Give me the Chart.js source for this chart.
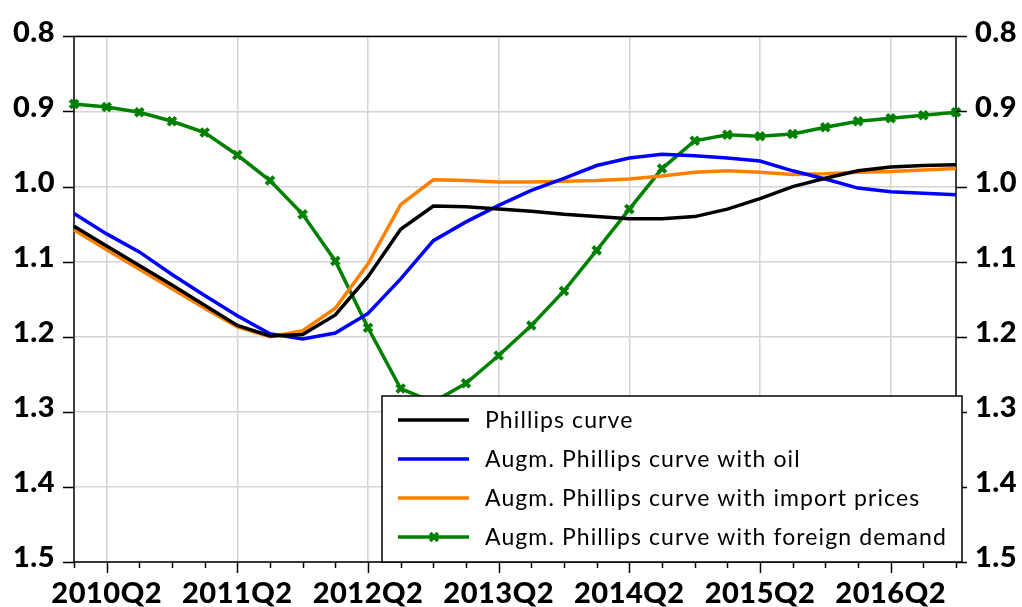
<!DOCTYPE html>
<html>
<head>
<meta charset="utf-8">
<script src="https://cdn.jsdelivr.net/npm/chart.js@4/dist/chart.umd.min.js"></script>
<style>
  html, body { margin: 0; padding: 0; background: #fff; }
  #wrap { width: 1022px; height: 607px; }
</style>
</head>
<body>
<div id="wrap"><canvas id="chart" width="1022" height="607"></canvas></div>
<script>
const quarters = [
  "2010Q1", "2010Q2", "2010Q3", "2010Q4",
  "2011Q1", "2011Q2", "2011Q3", "2011Q4",
  "2012Q1", "2012Q2", "2012Q3", "2012Q4",
  "2013Q1", "2013Q2", "2013Q3", "2013Q4",
  "2014Q1", "2014Q2", "2014Q3", "2014Q4",
  "2015Q1", "2015Q2", "2015Q3", "2015Q4",
  "2016Q1", "2016Q2", "2016Q3", "2016Q4"
];

const phillips = [
  1.053, 1.079, 1.105, 1.131, 1.158, 1.185, 1.199, 1.197, 1.171, 1.120,
  1.057, 1.026, 1.027, 1.030, 1.033, 1.037, 1.040, 1.043, 1.043, 1.040,
  1.030, 1.016, 1.000, 0.989, 0.979, 0.974, 0.972, 0.971
];
const withOil = [
  1.036, 1.063, 1.087, 1.117, 1.145, 1.172, 1.196, 1.203, 1.195, 1.169,
  1.123, 1.072, 1.047, 1.025, 1.005, 0.989, 0.972, 0.962, 0.957, 0.959,
  0.962, 0.966, 0.979, 0.990, 1.002, 1.007, 1.009, 1.011
];
const withImport = [
  1.058, 1.084, 1.110, 1.136, 1.162, 1.187, 1.200, 1.192, 1.162, 1.103,
  1.024, 0.991, 0.992, 0.994, 0.994, 0.993, 0.992, 0.990, 0.986, 0.981,
  0.979, 0.981, 0.984, 0.983, 0.981, 0.980, 0.978, 0.976
];
const withDemand = [
  0.890, 0.894, 0.901, 0.913, 0.928, 0.958, 0.992, 1.037, 1.099, 1.188,
  1.269, 1.287, 1.262, 1.225, 1.185, 1.139, 1.085, 1.030, 0.976, 0.939,
  0.931, 0.933, 0.930, 0.921, 0.913, 0.909, 0.905, 0.901
];

const yTicks = [0.8, 0.9, 1.0, 1.1, 1.2, 1.3, 1.4, 1.5];

const axisFont = { family: "Lato", weight: "900", size: 29 };

// frame around the plot, tick marks and the boxed legend
const framePlugin = {
  id: "frameAndLegend",
  beforeDraw(chart) {
    chart.ctx.letterSpacing = "0.5px";
  },
  beforeDatasetsDraw(chart) {
    const { ctx, chartArea: a } = chart;
    ctx.save();
    ctx.strokeStyle = "#000";
    ctx.lineWidth = 1.5;
    ctx.strokeRect(a.left, a.top, a.right - a.left, a.bottom - a.top);
    ctx.restore();
  },
  afterDraw(chart) {
    const { ctx, chartArea: a } = chart;
    const x = chart.scales.x, y = chart.scales.y;
    ctx.save();
    ctx.strokeStyle = "#000";
    ctx.lineWidth = 1.5;
    ctx.beginPath();
    quarters.forEach((q, i) => {
      const px = Math.round(x.getPixelForValue(i)) + 0.5;
      const len = i % 4 === 1 ? 11 : 6;
      ctx.moveTo(px, a.bottom);
      ctx.lineTo(px, a.bottom + len);
    });
    yTicks.forEach(v => {
      const py = Math.round(y.getPixelForValue(v)) + 0.5;
      ctx.moveTo(a.left - 11, py);
      ctx.lineTo(a.left, py);
      ctx.moveTo(a.right, py);
      ctx.lineTo(a.right + 11, py);
    });
    ctx.stroke();

    // legend
    const left = 382, top = 396, right = a.right + 6, bottom = a.bottom;
    ctx.fillStyle = "#fff";
    ctx.fillRect(left, top, right - left, bottom - top);
    ctx.strokeRect(left, top, right - left, bottom - top);
    ctx.font = "23px Lato";
    ctx.letterSpacing = "1.1px";
    ctx.textBaseline = "middle";
    chart.data.datasets.forEach((ds, i) => {
      const ly = top + 24 + i * 39;
      ctx.strokeStyle = ds.borderColor;
      ctx.lineWidth = 3.5;
      ctx.beginPath();
      ctx.moveTo(left + 16, ly);
      ctx.lineTo(left + 87, ly);
      ctx.stroke();
      if (ds.pointRadius > 0) {
        ctx.strokeStyle = ds.pointBorderColor;
        Chart.helpers.drawPoint(ctx, {
          pointStyle: ds.pointStyle, radius: ds.pointRadius, borderWidth: ds.pointBorderWidth
        }, left + 52, ly);
      }
      ctx.fillStyle = "#000";
      ctx.fillText(ds.label, left + 103, ly + 1);
    });
    ctx.restore();
  }
};

new Chart(document.getElementById("chart"), {
  type: "line",
  data: {
    labels: quarters,
    datasets: [
      { label: "Phillips curve", data: phillips, borderColor: "#000000",
        borderWidth: 3.5, pointRadius: 0, tension: 0 },
      { label: "Augm. Phillips curve with oil", data: withOil, borderColor: "#0000ff",
        borderWidth: 3.5, pointRadius: 0, tension: 0 },
      { label: "Augm. Phillips curve with import prices", data: withImport, borderColor: "#ff8000",
        borderWidth: 3.5, pointRadius: 0, tension: 0 },
      { label: "Augm. Phillips curve with foreign demand", data: withDemand, borderColor: "#008000",
        borderWidth: 3.5, tension: 0, pointStyle: "crossRot", pointRadius: 5.5,
        pointBorderWidth: 4, pointBorderColor: "#008000", pointBackgroundColor: "#008000" }
    ]
  },
  options: {
    responsive: false,
    animation: false,
    layout: { padding: { top: 33, left: 0, right: 0, bottom: 0 } },
    plugins: { legend: { display: false }, tooltip: { enabled: false } },
    scales: {
      x: {
        offset: false,
        grid: {
          color: c => (c.index % 4 === 1 ? "#d4d4d4" : "rgba(0,0,0,0)"),
          lineWidth: 1.5, drawTicks: false
        },
        border: { display: false },
        ticks: {
          autoSkip: false, maxRotation: 0, minRotation: 0, padding: 14,
          color: "#000", font: axisFont,
          callback: (v, i) => (i % 4 === 1 ? quarters[i] : "")
        },
        afterFit: s => { s.height = 45; }
      },
      y: {
        position: "left", reverse: true, min: 0.8, max: 1.5,
        grid: { color: "#d4d4d4", lineWidth: 1.5, drawTicks: false },
        border: { display: false },
        ticks: { stepSize: 0.1, padding: 19, labelOffset: -4, color: "#000", font: axisFont,
          callback: v => Number(v).toFixed(1) },
        afterFit: s => { s.width = 74; }
      },
      y2: {
        position: "right", reverse: true, min: 0.8, max: 1.5,
        grid: { drawOnChartArea: false, drawTicks: false },
        border: { display: false },
        ticks: { stepSize: 0.1, padding: 19, labelOffset: -4, color: "#000", font: axisFont,
          callback: v => Number(v).toFixed(1) },
        afterFit: s => { s.width = 66; }
      }
    }
  },
  plugins: [framePlugin]
});
</script>
</body>
</html>
